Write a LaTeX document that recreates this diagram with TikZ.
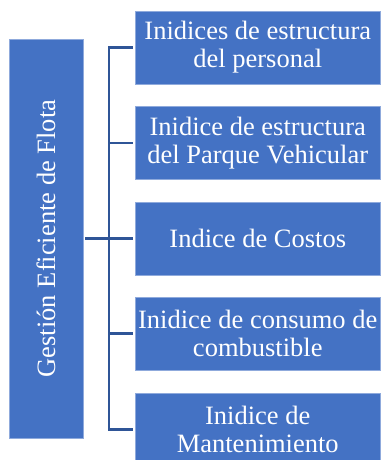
\documentclass[tikz,border=0pt]{standalone}
\usepackage{fontspec}
\setmainfont{Liberation Serif}
\definecolor{boxblue}{HTML}{4472C4}
\definecolor{boxedge}{HTML}{8FAADC}
\definecolor{linkblue}{HTML}{2F5597}
\begin{document}
\begin{tikzpicture}[x=1pt,y=-1pt,
  box/.style={draw=boxedge, line width=0.6pt, fill=boxblue, text=white, inner sep=0pt,
    minimum width=245.5pt, minimum height=73pt, align=center,
    font=\fontsize{26.5}{28}\selectfont},
  conn/.style={draw=linkblue, line width=2.8pt}]
\useasboundingbox (0,0) rectangle (381,460);
\clip (0,0) rectangle (381,460);
\node[box, minimum width=74pt, minimum height=399pt] (root) at (46,238.5) {};
\node[rotate=90, text=white, inner sep=0pt, font=\fontsize{26.5}{28}\selectfont] (rootlabel) at (root.center) {Gestión Eficiente de Flota};
\node[box] (b1) at (257.75,47.5) {Inidices de estructura\\del personal};
\node[box] (b2) at (257.75,143) {Inidice de estructura\\del Parque Vehicular};
\node[box] (b3) at (257.75,238.5) {Indice de Costos};
\node[box] (b4) at (257.75,333.5) {Inidice de consumo de\\combustible};
\node[box] (b5) at (257.75,429.5) {Inidice de\\Mantenimiento};
\coordinate (sp) at (109,0);
\draw[conn] ([xshift=2pt]root.east) -- ([xshift=-1.5pt]b3.west);
\draw[conn, line cap=rect] (sp |- b1.west) -- (sp |- b5.west);
\foreach \b in {b1,b2,b4,b5}
  \draw[conn] (sp |- \b.west) -- ([xshift=-1.5pt]\b.west);
\end{tikzpicture}
\end{document}
